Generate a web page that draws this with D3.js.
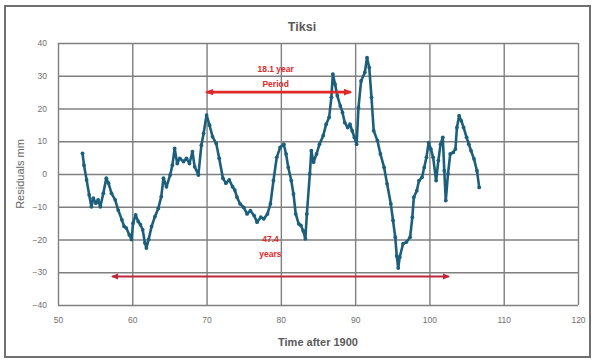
<!DOCTYPE html>
<html>
<head>
<meta charset="utf-8">
<script src="https://cdn.jsdelivr.net/npm/d3@7"></script>
<style>
  html, body { margin: 0; padding: 0; background: #fff; }
  svg { display: block; font-family: "Liberation Sans", Arial, sans-serif; }
</style>
</head>
<body>
<svg id="chart" width="594" height="361"></svg>
<script>
// Tiksi sea-level residuals (mm) against time after 1900
const years = [
  53.3, 53.5, 53.85, 54.2, 54.5, 54.75, 55.1, 55.4, 55.7, 56.1, 56.5, 56.8, 57.2, 57.7, 58.1, 58.6,
  58.9, 59.2, 59.6, 59.9, 60.1, 60.45, 60.8, 61.1, 61.4, 61.7, 61.9, 62.2, 62.6, 63.05, 63.5, 63.9,
  64.2, 64.6, 65.1, 65.4, 65.7, 66.05, 66.4, 66.9, 67.3, 67.7, 68.1, 68.4, 68.9, 69.3, 69.6, 70.0,
  70.4, 70.8, 71.3, 71.7, 72.2, 72.6, 73.05, 73.5, 73.8, 74.1, 74.5, 75.0, 75.45, 75.9, 76.4, 76.8,
  77.3, 77.7, 78.2, 78.6, 79.0, 79.45, 79.9, 80.4, 80.7, 81.0, 81.4, 81.7, 82.0, 82.4, 82.7, 83.0,
  83.3, 83.5, 83.9, 84.1, 84.4, 84.8, 85.2, 85.7, 86.1, 86.5, 86.8, 87.0, 87.3, 87.6, 88.0, 88.3,
  88.6, 89.0, 89.3, 89.6, 89.9, 90.2, 90.45, 90.8, 91.3, 91.6, 91.9, 92.2, 92.5, 93.0, 93.4, 93.9,
  94.3, 94.8, 95.1, 95.4, 95.6, 95.8, 96.0, 96.45, 96.9, 97.4, 97.7, 97.9, 98.3, 98.6, 99.0, 99.3,
  99.6, 99.9, 100.2, 100.5, 100.9, 101.2, 101.5, 101.8, 102.0, 102.2, 102.5, 102.8, 103.2, 103.5,
  103.7, 104.0, 104.3, 104.6, 105.0, 105.3, 105.6, 106.0, 106.4, 106.7
];
const residuals = [
  6.3, 2.7, -1.8, -6.4, -10, -7.4, -8.9, -7.9, -10, -5.9, -1.3, -2.8, -5.9, -7.9, -11, -14,
  -16, -16.5, -18.6, -20, -15, -12.5, -14.5, -15.5, -17, -21, -22.6, -20, -16, -13, -10.5, -6.9,
  -1.3, -3.9, -0.3, 2.7, 7.8, 3.2, 4.8, 3.8, 4.8, 3.2, 6.8, 2.2, -0.3, 8.8, 12.4, 18,
  14.9, 11.4, 9.3, 4.8, -1.3, -2.8, -1.8, -3.9, -4.9, -7.1, -9.1, -10.2, -12.2, -11.2, -12.7, -14.7,
  -13.2, -13.7, -12.2, -9.1, -2, 5.1, 8.1, 9.1, 6.1, 2, -2, -6.1, -12.2, -15.2, -15.7, -17.3,
  -19.8, -12.2, 0, 7.1, 3.6, 6.1, 9.1, 11.7, 15.2, 17.3, 23.4, 30.5, 27.4, 23.9, 20.8, 18.8,
  15.7, 14.2, 15.2, 13.2, 11.2, 9.1, 20.3, 28.4, 31, 35.5, 32.5, 23.4, 13.2, 10.2, 6.1, 2,
  -3, -9.1, -14.2, -19.3, -25, -28.7, -25.4, -21.3, -20.8, -19.3, -13.2, -7.1, -5.1, -2, -1, 2,
  5.1, 9.6, 7.6, 5.1, -2, 4.1, 9.1, 11.2, 1, -8.1, 0, 6.1, 6.6, 7.6,
  14.2, 17.8, 16.2, 14.2, 11.2, 9.1, 7.1, 4.6, 1, -4.1
];

const xTicks = [50, 60, 70, 80, 90, 100, 110, 120];
const yTicks = [-40, -30, -20, -10, 0, 10, 20, 30, 40];

// Period annotations: [start year, end year, level mm]
const periodArrow = [70, 89.4, 25];
const periodText = ["18.1 year", "Period"];
const spanArrow = [57.3, 102.6, -31.3];
const spanText = ["47.4", "years"];

const svg = d3.select("#chart");
const margin = { left: 58, right: 16, top: 43, bottom: 56 };
const W = 594, H = 361;

const x = d3.scaleLinear().domain([50, 120]).range([margin.left, W - margin.right]);
const y = d3.scaleLinear().domain([-40, 40]).range([H - margin.bottom, margin.top]);

// outer frame
svg.append("rect")
  .attr("x", 5).attr("y", 6).attr("width", 585).attr("height", 351)
  .attr("fill", "none").attr("stroke", "#6f6f6f").attr("stroke-width", 2);

// arrowhead markers
const defs = svg.append("defs");
function head(id, color, size) {
  defs.append("marker")
    .attr("id", id).attr("viewBox", "0 0 10 10")
    .attr("refX", 8).attr("refY", 5)
    .attr("markerWidth", size).attr("markerHeight", size)
    .attr("orient", "auto-start-reverse")
    .append("path").attr("d", "M0,1 L10,5 L0,9 Z").attr("fill", color);
}
head("headTop", "#e02a2a", 3.2);
head("headBottom", "#c0263a", 4.2);

// gridlines
const gridColor = "#7f7f7f";
svg.append("g")
  .attr("transform", `translate(0,${H - margin.bottom})`)
  .call(d3.axisBottom(x).tickValues(xTicks).tickSize(-(H - margin.top - margin.bottom)).tickFormat(""))
  .call(g => g.select(".domain").remove())
  .call(g => g.selectAll("line").attr("stroke", gridColor).attr("stroke-width", 1.4));
svg.append("g")
  .attr("transform", `translate(${margin.left},0)`)
  .call(d3.axisLeft(y).tickValues(yTicks).tickSize(-(W - margin.left - margin.right)).tickFormat(""))
  .call(g => g.select(".domain").remove())
  .call(g => g.selectAll("line").attr("stroke", gridColor).attr("stroke-width", 1.4));

// tick labels
svg.append("g")
  .attr("transform", `translate(0,${H - margin.bottom})`)
  .call(d3.axisBottom(x).tickValues(xTicks).tickSize(0).tickPadding(12))
  .call(g => g.select(".domain").remove())
  .call(g => g.selectAll("text").attr("fill", "#6f6f6f").attr("font-size", 8.5));
svg.append("g")
  .attr("transform", `translate(${margin.left},0)`)
  .call(d3.axisLeft(y).tickValues(yTicks).tickSize(0).tickPadding(11))
  .call(g => g.select(".domain").remove())
  .call(g => g.selectAll("text").attr("fill", "#6f6f6f").attr("font-size", 8.5));

// titles
svg.append("text").attr("x", 302).attr("y", 31).attr("text-anchor", "middle")
  .attr("font-size", 12.5).attr("font-weight", "bold").attr("fill", "#5a5a5a").text("Tiksi");
svg.append("text").attr("x", x(85)).attr("y", 346).attr("text-anchor", "middle")
  .attr("font-size", 11).attr("font-weight", "bold").attr("fill", "#5a5a5a").text("Time after 1900");
svg.append("text")
  .attr("transform", `translate(24,${y(0)}) rotate(-90)`)
  .attr("text-anchor", "middle").attr("font-size", 11).attr("fill", "#666").text("Residuals mm");

// residual series
const pts = years.map((t, i) => [t, residuals[i]]);
const color = "#1c5f7c";
svg.append("path")
  .datum(pts)
  .attr("fill", "none").attr("stroke", color).attr("stroke-width", 2.6)
  .attr("stroke-linejoin", "round")
  .attr("d", d3.line().x(d => x(d[0])).y(d => y(d[1])));
svg.append("g").selectAll("circle").data(pts).join("circle")
  .attr("cx", d => x(d[0])).attr("cy", d => y(d[1])).attr("r", 1.9).attr("fill", color);

// annotation arrows
svg.append("line")
  .attr("x1", x(periodArrow[0])).attr("x2", x(periodArrow[1]))
  .attr("y1", y(periodArrow[2])).attr("y2", y(periodArrow[2]))
  .attr("stroke", "#e02a2a").attr("stroke-width", 2.6)
  .attr("marker-start", "url(#headTop)").attr("marker-end", "url(#headTop)");
svg.append("line")
  .attr("x1", x(spanArrow[0])).attr("x2", x(spanArrow[1]))
  .attr("y1", y(spanArrow[2])).attr("y2", y(spanArrow[2]))
  .attr("stroke", "#c0263a").attr("stroke-width", 1.8)
  .attr("marker-start", "url(#headBottom)").attr("marker-end", "url(#headBottom)");

const labelG = svg.append("g").attr("fill", "#e02a2a").attr("font-size", 8.5)
  .attr("font-weight", "bold").attr("text-anchor", "middle");
labelG.append("text").attr("x", x(79.3)).attr("y", y(31)).text(periodText[0]);
labelG.append("text").attr("x", x(79.3)).attr("y", y(26.6)).text(periodText[1]);
labelG.append("text").attr("x", x(78.6)).attr("y", y(-20.8)).text(spanText[0]);
labelG.append("text").attr("x", x(78.6)).attr("y", y(-25.4)).text(spanText[1]);
</script>
</body>
</html>
